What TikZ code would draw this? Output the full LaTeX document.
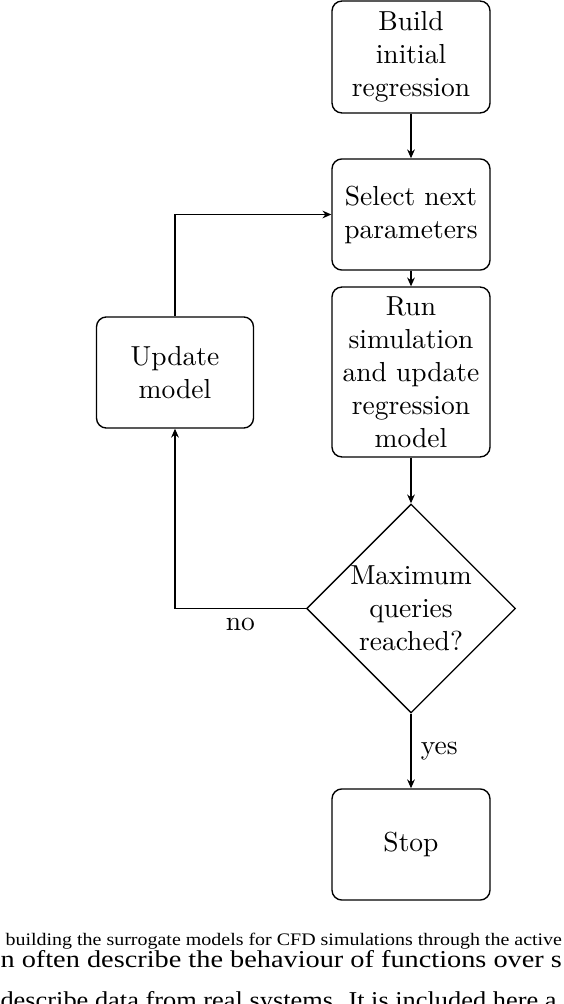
\documentclass[tikz,border=0pt]{standalone}
\usepackage{fontspec}
\newfontfamily\capfont{Liberation Serif}
\usetikzlibrary{shapes.geometric,arrows.meta}
\begin{document}
\begin{tikzpicture}[x=0.363636pt,y=-0.363636pt,
  box/.style={draw, rounded corners=3.6pt, minimum width=57.45pt, minimum height=40.4pt, align=center, inner sep=0pt, line width=0.5pt},
  dec/.style={draw, diamond, shape aspect=1, minimum width=76pt, minimum height=76pt, align=center, inner sep=-1pt, line width=0.5pt},
  conn/.style={-{Stealth[length=3.2pt,width=2.8pt]}, line width=0.5pt},
  captxt/.style={anchor=base west, inner sep=0pt, font=\capfont\fontsize{6.4}{7}\selectfont},
  bodytxt/.style={anchor=base west, inner sep=0pt, font=\capfont\fontsize{8.8}{10}\selectfont}]
\useasboundingbox (0,0) rectangle (564,1004);
\clip (0,0) rectangle (564,1004);
\node[box, minimum height=40.7pt] (build) at (411,57) {Build\\initial\\regression};
\node[box] (select) at (411,214.5) {Select next\\parameters};
\node[box, minimum height=61.8pt] (run) at (411,372) {Run\\simulation\\and update\\regression\\model};
\node[box, minimum width=57.1pt] (update) at (175,372.5) {Update\\model};
\node[dec] (dec) at (411,608.5) {Maximum\\queries\\reached?};
\node[box] (stop) at (411,844.5) {Stop};
\draw[conn] (build) -- (select);
\draw[conn] (select) -- (run);
\draw[conn] (run) -- (dec);
\draw[conn] (dec) -- node[right] {yes} (stop);
\draw[conn] (dec.west) -| node[pos=0.25, below] {no} (update);
\draw[conn] (update) |- (select);
\node[captxt] (cap) at (5,945) {\scalebox{1.135}[1]{building the surrogate models for CFD simulations through the active}};
\node[bodytxt] (body1) at (0,967) {\scalebox{1.17}[1]{n often describe the behaviour of functions over s}};
\node[bodytxt] (body2) at (0,1008) {\scalebox{1.09}[1]{describe data from real systems. It is included here a}};
\end{tikzpicture}
\end{document}
